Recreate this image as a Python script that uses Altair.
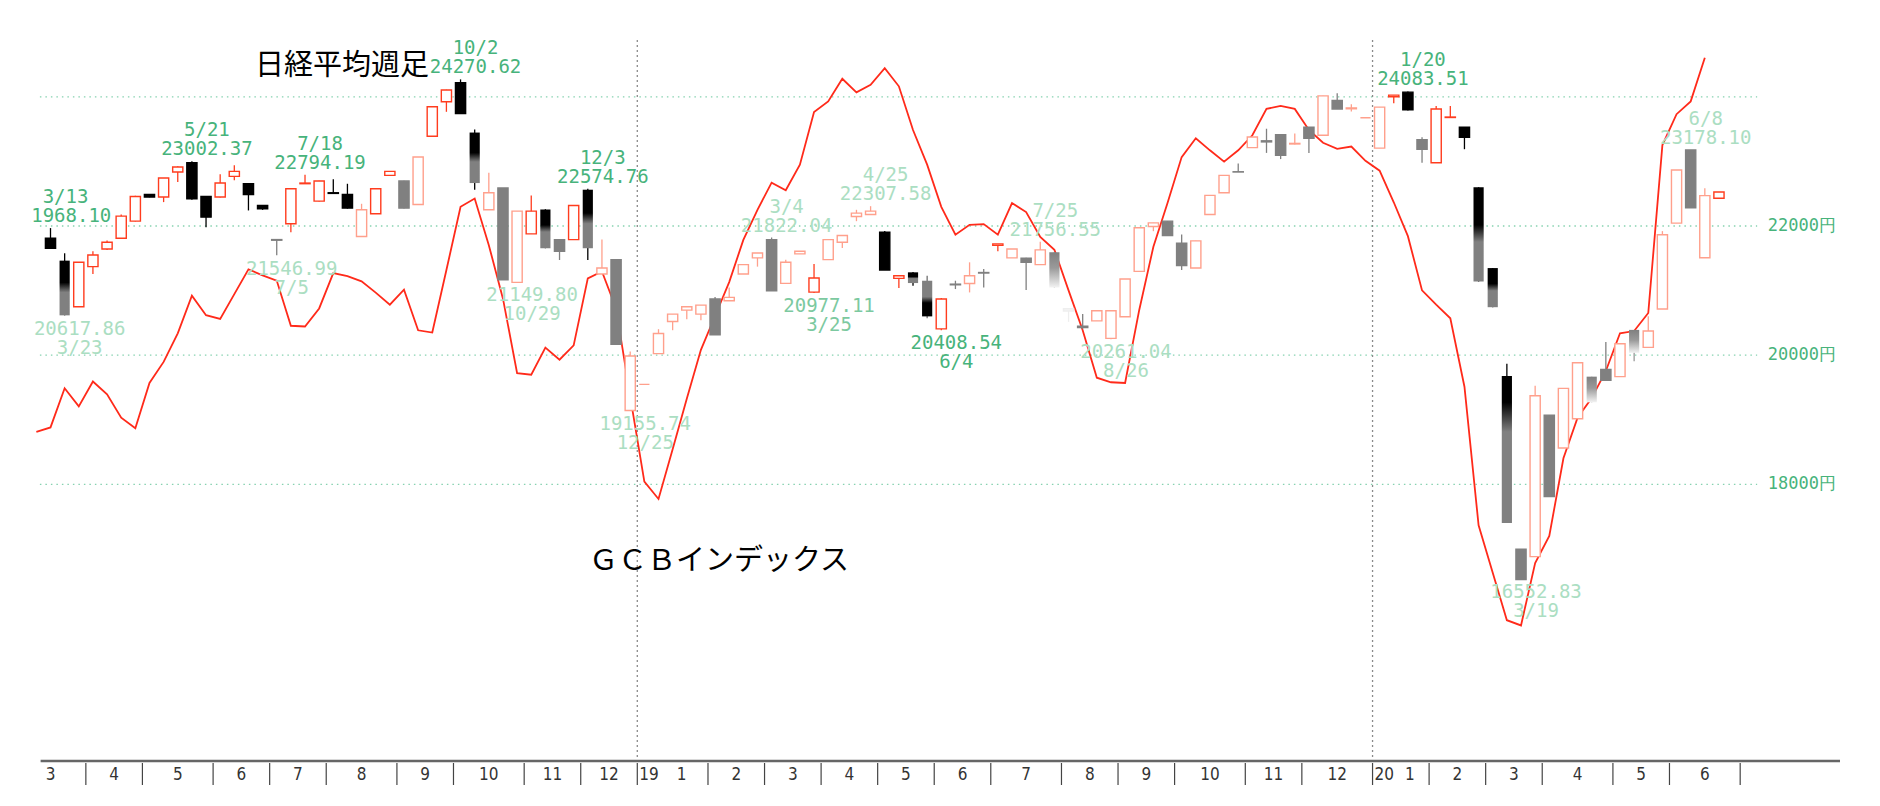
import altair as alt
import pandas as pd

# ---------------- data ----------------
# Weekly Nikkei 225 candles, one per trading week starting with the week of 2018-03-12
opens = [
    21811, 21464, 20750, 21371, 21645, 21811, 22075, 22489, 22448, 22836,
    22981, 22458, 22448, 22769, 22654, 22318, 21790, 22034, 22655, 22386,
    22515, 22489, 21837, 22189, 22784, 22696, 22334, 23390, 23923, 24219,
    23447, 22251, 22588, 21128, 21878, 22256, 21790, 21790, 22562, 21257,
    21480, 19144, 19548, 20025, 20522, 20698, 20636, 20869, 20843, 21257,
    21506, 21790, 21112, 21568, 20977, 21479, 21749, 22148, 22179, 21904,
    21190, 21283, 21153, 20408, 21090, 21111, 21280, 21700, 21506, 21500,
    21402, 21594, 20720, 20450, 20532, 20261, 20595, 21298, 21992, 22075,
    21733, 21350, 22179, 22515, 22840, 23213, 23319, 23415, 23270, 23528,
    23404, 23942, 23815, 23676, 23206, 24000, 24072, 23336, 22979, 23680,
    23528, 22600, 21349, 19679, 16996, 16882, 19073, 18564, 19017, 19668,
    19781, 19668, 20392, 20121, 20715, 22045, 23178, 21508, 22430]
highs = [
    21968, 21578, 21440, 21609, 21775, 22179, 22470, 22495, 22743, 22924,
    23002, 22460, 22800, 22940, 22660, 22325, 21790, 22590, 22794, 22700,
    22722, 22654, 22344, 22577, 22850, 22700, 23069, 23846, 24110, 24270,
    23494, 22826, 22590, 22230, 22474, 22260, 21790, 22318, 22575, 21790,
    21480, 20056, 19548, 20403, 20636, 20750, 20776, 20900, 21050, 21402,
    21583, 21822, 21479, 21609, 21412, 21790, 21852, 22251, 22307, 21923,
    21231, 21290, 21231, 20884, 21153, 21438, 21335, 21723, 21645, 21510,
    21756, 21600, 20720, 20636, 20688, 20688, 21180, 21972, 22049, 22075,
    21868, 21770, 22474, 22784, 22966, 23379, 23506, 23415, 23432, 23528,
    24015, 24055, 23885, 23676, 23840, 24027, 24083, 23376, 23857, 23857,
    23528, 22600, 21349, 19866, 16996, 19526, 19073, 19487, 19883, 19668,
    20205, 20177, 20392, 20602, 21921, 22866, 23178, 22583, 22526]
lows = [
    21656, 20617, 20750, 21257, 21630, 21811, 22070, 22445, 22370, 22681,
    22406, 21982, 22440, 22707, 22241, 22250, 21547, 21904, 22650, 22380,
    22500, 22270, 21837, 22189, 22780, 22270, 22334, 23390, 23768, 23742,
    22562, 22251, 21169, 21128, 21878, 21656, 21474, 21790, 21474, 21257,
    20170, 19144, 19548, 20025, 20387, 20558, 20543, 20316, 20843, 21257,
    21371, 20998, 21112, 21568, 20962, 21479, 21661, 22075, 22179, 21319,
    21040, 21076, 20574, 20387, 21024, 20972, 21050, 21609, 21506, 21009,
    21400, 21050, 20516, 20410, 20532, 20247, 20595, 21298, 21920, 21852,
    21319, 21350, 22179, 22515, 22836, 23213, 23132, 23036, 23260, 23132,
    23404, 23812, 23772, 23676, 23206, 23902, 23790, 22979, 22979, 23680,
    23189, 21140, 20743, 17403, 16526, 16882, 17811, 18564, 19017, 19271,
    19611, 19668, 19905, 20121, 20715, 22045, 22283, 21508, 22430]
closes = [
    21656, 20617, 21438, 21552, 21749, 22153, 22458, 22448, 22743, 22914,
    22422, 22137, 22665, 22846, 22489, 22267, 21780, 22578, 22665, 22696,
    22505, 22277, 22251, 22577, 22846, 22277, 23069, 23846, 24105, 23742,
    22665, 22515, 21169, 22230, 22230, 21656, 21609, 22318, 21656, 21350,
    20170, 19988, 19548, 20335, 20636, 20750, 20776, 20316, 20895, 21402,
    21583, 20998, 21438, 21609, 21195, 21790, 21852, 22199, 22230, 21319,
    21231, 21117, 20601, 20869, 21100, 21231, 21272, 21723, 21645, 21438,
    21630, 21050, 20685, 20428, 20688, 20688, 21180, 21972, 22049, 21852,
    21386, 21770, 22474, 22784, 22836, 23379, 23302, 23093, 23279, 23359,
    24015, 23812, 23828, 23676, 23840, 24027, 23800, 23189, 23812, 23687,
    23375, 21140, 20743, 17403, 16526, 19373, 17811, 19487, 19883, 19271,
    19611, 20177, 20036, 20375, 21864, 22866, 22283, 22470, 22526]
# candle look: k black, g gray, kg black->gray, ks short black top then gray,
# gk gray->black, gw gray->white, w almost invisible, r red hollow, p pale red hollow
styles = [
    "k", "kg", "r", "r", "r", "r", "r", "k", "r", "r",
    "k", "k", "r", "r", "k", "k", "g", "r", "r", "r",
    "k", "k", "p", "r", "r", "g", "p", "r", "r", "k",
    "kg", "p", "g", "p", "r", "kg", "g", "r", "kg", "p",
    "g", "p", "p", "p", "p", "p", "p", "g", "p", "p",
    "p", "g", "p", "p", "r", "p", "p", "p", "p", "k",
    "r", "kg", "gk", "r", "g", "p", "g", "r", "p", "g",
    "p", "gw", "w", "g", "p", "p", "p", "p", "p", "g",
    "g", "p", "p", "p", "g", "p", "g", "g", "p", "g",
    "p", "g", "p", "p", "p", "r", "k", "g", "r", "r",
    "k", "kg", "kg", "ks", "g", "p", "g", "p", "p", "gw",
    "g", "p", "gw", "p", "p", "p", "g", "p", "r"]

# GCB index (own unlabeled scale 0-100), starting one week before the first candle
gcb_first_week = -1
gcb_values = [
    43.7, 44.3, 49.5, 47.1, 50.4, 48.7, 45.6, 44.2, 50.2, 53.0,
    56.8, 61.8, 59.2, 58.7, 62.0, 65.3, 64.5, 63.8, 57.8, 57.7,
    60.1, 64.8, 64.4, 63.7, 62.2, 60.6, 62.6, 57.2, 56.9, 65.2,
    73.6, 74.7, 68.5, 61.4, 51.5, 51.3, 54.9, 53.3, 55.2, 64.1,
    65.0, 60.1, 48.4, 37.1, 34.8, 41.4, 48.1, 54.6, 59.1, 63.6,
    69.2, 73.2, 76.8, 75.8, 79.2, 86.2, 87.6, 90.6, 88.8, 89.8,
    92.0, 89.6, 83.8, 79.2, 73.6, 69.9, 71.2, 71.3, 69.9, 74.1,
    72.9, 69.6, 67.9, 62.5, 57.2, 50.9, 50.3, 50.2, 59.9, 68.3,
    74.1, 80.2, 82.7, 81.1, 79.6, 81.1, 83.1, 86.6, 87.0, 86.6,
    83.8, 82.1, 81.3, 81.6, 79.7, 78.4, 74.2, 69.7, 62.5, 60.6,
    58.8, 49.7, 31.3, 25.0, 18.7, 18.0, 26.3, 29.9, 40.2, 45.6,
    48.2, 51.8, 56.8, 57.1, 59.5, 81.8, 85.9, 87.6, 93.4]

# high / low annotations
label_week = [0, 1, 10, 16, 18, 29, 33, 38, 41, 51, 54, 58, 63, 70, 75, 96, 104, 116]
label_date = ["3/13", "3/23", "5/21", "7/5", "7/18", "10/2", "10/29", "12/3", "12/25",
              "3/4", "3/25", "4/25", "6/4", "7/25", "8/26", "1/20", "3/19", "6/8"]
label_value = ["21968.10", "20617.86", "23002.37", "21546.99", "22794.19", "24270.62",
               "21149.80", "22574.76", "19155.74", "21822.04", "20977.11", "22307.58",
               "20408.54", "21756.55", "20261.04", "24083.51", "16552.83", "23178.10"]
label_side = ["high", "low", "high", "low", "high", "high", "low", "high", "low",
              "high", "low", "high", "low", "high", "low", "high", "low", "high"]
label_tone = ["strong", "faint", "strong", "faint", "strong", "strong", "faint", "strong",
              "faint", "faint", "mid", "faint", "strong", "faint", "faint", "strong",
              "faint", "faint"]

# bottom axis: months and the trading-week index where each month starts
month_names = ["3", "4", "5", "6", "7", "8", "9", "10", "11", "12",
               "1", "2", "3", "4", "5", "6", "7", "8", "9", "10", "11", "12",
               "1", "2", "3", "4", "5", "6"]
month_first_week = [-2, 3, 7, 12, 16, 20, 25, 29, 34, 38,
                    42, 47, 51, 55, 59, 63, 67, 72, 76, 80, 85, 89,
                    94, 98, 102, 106, 111, 115]
month_after_last = 120
year_names = ["19", "20"]
year_first_week = [42, 94]

grid_prices = [24000, 22000, 20000, 18000]
price_label_values = [22000, 20000, 18000]
price_label_texts = ["22000円", "20000円", "18000円"]

# ---------------- frames ----------------
candles = pd.DataFrame({"week": list(range(len(opens))), "open": opens, "high": highs,
                        "low": lows, "close": closes, "style": styles})
candles["top"] = candles[["open", "close"]].max(axis=1)
candles["bottom"] = candles[["open", "close"]].min(axis=1)
candles["left"] = candles["week"] - 0.36
candles["right"] = candles["week"] + 0.36

gcb = pd.DataFrame({"week": list(range(gcb_first_week, gcb_first_week + len(gcb_values))),
                    "gcb": gcb_values})

labels = pd.DataFrame({"week": label_week, "date": label_date, "value": label_value,
                       "side": label_side, "tone": label_tone})
labels["price"] = labels["value"].astype(float)

starts = month_first_week + [month_after_last]
months = pd.DataFrame({"name": month_names,
                       "mid": [(starts[k] + starts[k + 1] - 1) / 2 for k in range(len(month_names))]})
months["jan"] = months["name"] == "1"
ticks = pd.DataFrame({"pos": [s - 0.5 for s in starts[1:]]})
years = pd.DataFrame({"name": year_names, "pos": [w - 0.5 for w in year_first_week]})

W, H = 1810, 753
X = alt.Scale(domain=[-1.45, 126.56], nice=False, zero=False)
Y = alt.Scale(domain=[13718, 25375], nice=False, zero=False)
G = alt.Scale(domain=[0, 100], nice=False, zero=False)

grid = pd.DataFrame({"price": grid_prices, "x_from": -0.75, "x_to": 120.7})
plabels = pd.DataFrame({"price": price_label_values, "text": price_label_texts, "lx": 121.45})
axisline = pd.DataFrame({"x_from": [-0.7], "x_to": [126.56]})

GREEN = "#47b37b"
RED = "#ff3c1e"
PINK = "#ffa08c"
GRAY = "#808080"
MONO = "DejaVu Sans Mono"

# ---------------- layers ----------------
grid_layer = alt.Chart(grid).mark_rule(color="#86d2b0", strokeWidth=1.3, strokeDash=[1.5, 4]).encode(
    x=alt.X("x_from:Q", scale=X, axis=None), x2="x_to:Q",
    y=alt.Y("price:Q", scale=Y, axis=None))

year_lines = alt.Chart(years).mark_rule(color="#8a8a8a", strokeWidth=1.3, strokeDash=[2, 3]).encode(
    x=alt.X("pos:Q", scale=X, axis=None), y=alt.value(32), y2=alt.value(H))

gcb_layer = alt.Chart(gcb).mark_line(color="#ff2a1a", strokeWidth=1.8).encode(
    x=alt.X("week:Q", scale=X, axis=None),
    y=alt.Y("gcb:Q", scale=G, axis=None))

style_keys = ["k", "g", "kg", "ks", "gk", "gw", "w", "r", "p"]
wick_colors = ["#000000", GRAY, "#000000", "#000000", "#707070", "#999999", "#eeeeee", RED, PINK]
wicks = alt.Chart(candles).mark_rule(strokeWidth=1.3).encode(
    x=alt.X("week:Q", scale=X, axis=None),
    y=alt.Y("low:Q", scale=Y, axis=None), y2="high:Q",
    color=alt.Color("style:N", scale=alt.Scale(domain=style_keys, range=wick_colors), legend=None))

plain_keys = ["k", "g", "w", "r", "p"]
bodies = alt.Chart(candles).transform_filter(
    alt.FieldOneOfPredicate(field="style", oneOf=plain_keys)
).mark_rect(strokeWidth=1.4).encode(
    x=alt.X("left:Q", scale=X, axis=None), x2="right:Q",
    y=alt.Y("bottom:Q", scale=Y, axis=None), y2="top:Q",
    fill=alt.Fill("style:N", scale=alt.Scale(domain=plain_keys,
                  range=["#000000", GRAY, "#f6f6f6", "#ffffff", "#ffffff"]), legend=None),
    stroke=alt.Stroke("style:N", scale=alt.Scale(domain=plain_keys,
                      range=["#000000", GRAY, "#eeeeee", RED, PINK]), legend=None))


def gradient(stops):
    return {"gradient": "linear", "x1": 0, "y1": 0, "x2": 0, "y2": 1,
            "stops": [{"offset": o, "color": c} for o, c in stops]}


grad_defs = {
    "kg": [(0, "#000000"), (0.4, "#000000"), (0.58, GRAY), (1, GRAY)],
    "ks": [(0, "#000000"), (0.18, "#000000"), (0.38, GRAY), (1, GRAY)],
    "gk": [(0, GRAY), (0.45, GRAY), (0.62, "#000000"), (1, "#000000")],
    "gw": [(0, GRAY), (0.45, "#9a9a9a"), (1, "#f2f2f2")],
}
grad_layers = []
for key, stops in grad_defs.items():
    grad_layers.append(
        alt.Chart(candles).transform_filter(alt.datum.style == key)
        .mark_rect(fill=gradient(stops)).encode(
            x=alt.X("left:Q", scale=X, axis=None), x2="right:Q",
            y=alt.Y("bottom:Q", scale=Y, axis=None), y2="top:Q"))

tone_scale = alt.Scale(domain=["strong", "mid", "faint"], range=[GREEN, "#7cc9a0", "#abdec2"])


def label_layer(side, field, dy):
    return alt.Chart(labels).transform_filter(alt.datum.side == side).mark_text(
        font=MONO, fontSize=19, dx=15, dy=dy, baseline="middle", align="center", clip=True
    ).encode(
        x=alt.X("week:Q", scale=X, axis=None),
        y=alt.Y("price:Q", scale=Y, axis=None),
        text=f"{field}:N",
        color=alt.Color("tone:N", scale=tone_scale, legend=None))


label_layers = [label_layer("high", "value", -12), label_layer("high", "date", -31),
                label_layer("low", "value", 14), label_layer("low", "date", 33)]

price_text = alt.Chart(plabels).mark_text(font=MONO, fontSize=17, align="left",
                                          baseline="middle", color=GREEN).encode(
    x=alt.X("lx:Q", scale=X, axis=None), y=alt.Y("price:Q", scale=Y, axis=None), text="text:N")

axis_line = alt.Chart(axisline).mark_rule(color="#666666", strokeWidth=2.5).encode(
    x=alt.X("x_from:Q", scale=X, axis=None), x2="x_to:Q", y=alt.value(H))
tick_layer = alt.Chart(ticks).mark_rule(color="#444444", strokeWidth=1.2).encode(
    x=alt.X("pos:Q", scale=X, axis=None), y=alt.value(H + 2), y2=alt.value(H + 24))
month_text = alt.Chart(months).transform_filter(alt.datum.jan == False).mark_text(
    font="DejaVu Sans Condensed", fontSize=17, baseline="middle", align="center", color="#333333"
).encode(x=alt.X("mid:Q", scale=X, axis=None), y=alt.value(H + 14), text="name:N")
jan_text = alt.Chart(months).transform_filter(alt.datum.jan == True).mark_text(
    font="DejaVu Sans Condensed", fontSize=17, baseline="middle", align="center", color="#333333", dx=9
).encode(x=alt.X("mid:Q", scale=X, axis=None), y=alt.value(H + 14), text="name:N")
year_text = alt.Chart(years).mark_text(
    font="DejaVu Sans Condensed", fontSize=17, baseline="middle", align="left", color="#333333", dx=2
).encode(x=alt.X("pos:Q", scale=X, axis=None), y=alt.value(H + 14), text="name:N")

title1 = alt.Chart(pd.DataFrame({"t": ["日経平均週足"]})).mark_text(
    font="Noto Sans CJK JP", fontSize=29, color="#000000", align="center", baseline="middle"
).encode(x=alt.value(312), y=alt.value(58), text="t:N")
title2 = alt.Chart(pd.DataFrame({"t": ["ＧＣＢインデックス"]})).mark_text(
    font="Noto Sans CJK JP", fontSize=29, color="#000000", align="center", baseline="middle"
).encode(x=alt.value(689), y=alt.value(553), text="t:N")

chart = alt.layer(
    grid_layer, year_lines, gcb_layer, wicks, bodies, *grad_layers, *label_layers,
    price_text, axis_line, tick_layer, month_text, jan_text, year_text, title1, title2
).resolve_scale(
    y="independent", color="independent", fill="independent", stroke="independent"
).properties(
    width=W, height=H,
    padding={"left": 22, "top": 0, "right": 20, "bottom": 28},
    autosize=alt.AutoSizeParams(type="none"),
    background="white",
).configure_view(stroke=None)

chart.save("out.html", embed_options={"renderer": "svg", "actions": False})
